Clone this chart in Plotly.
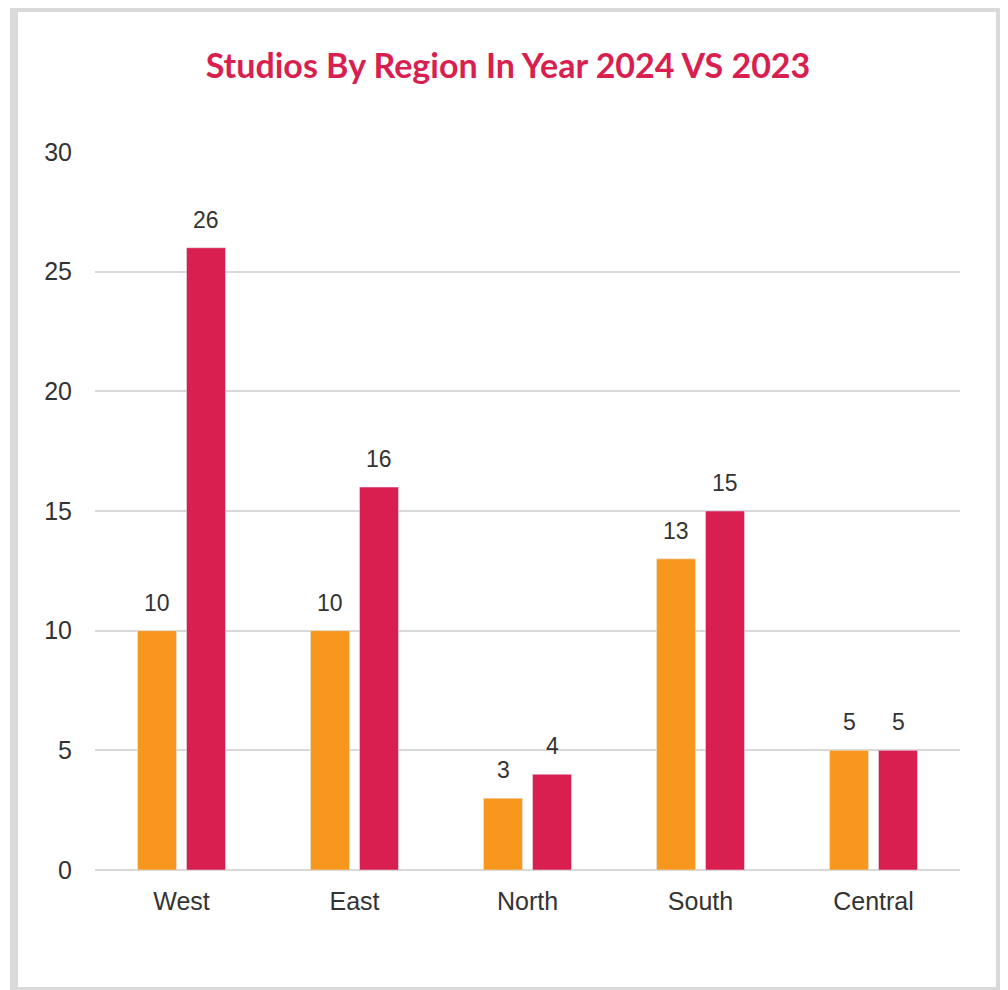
import plotly.graph_objects as go

regions = ["West", "East", "North", "South", "Central"]
studios_2023 = [10, 10, 3, 13, 5]
studios_2024 = [26, 16, 4, 15, 5]

ORANGE = "#f7971e"
RED = "#d81f4f"

# the page puts the figure 8px in from the top left, so the figure is 1000x982
W, H = 1000, 982
L, R, T, B = 87, 48, 144, 120
pw, ph = W - L - R, H - T - B


def px(x):
    return (x - L) / pw


def py(y):
    return (H - B - y) / ph


fig = go.Figure()
fig.add_trace(go.Bar(x=regions, y=studios_2023, name="2023", marker_color=ORANGE,
                     hoverinfo="x+y"))
fig.add_trace(go.Bar(x=regions, y=studios_2024, name="2024", marker_color=RED,
                     hoverinfo="x+y"))

# value labels above each bar
for series, shift in ((studios_2023, -24.5), (studios_2024, 24.5)):
    for reg, v in zip(regions, series):
        fig.add_annotation(x=reg, y=v, text=str(v), showarrow=False,
                           xshift=shift, yshift=13, yanchor="bottom",
                           font=dict(family="Liberation Sans", size=23, color="#333333"))

# outer gray frame and green edge bar
fig.add_shape(type="rect", xref="paper", yref="paper",
              x0=px(6), x1=px(992), y0=py(0), y1=py(983),
              line=dict(color="#d9d9d9", width=8), layer="below")
fig.add_shape(type="rect", xref="paper", yref="paper",
              x0=px(996), x1=px(1000), y0=py(28), y1=py(990),
              fillcolor="#3dba7b", line=dict(width=0))

fig.update_layout(
    width=W, height=H,
    title=dict(
        text="<b>Studios By Region In Year 2024 VS 2023</b>",
        xref="container", x=500 / W, xanchor="center",
        y=1 - 58 / H, yanchor="middle",
        font=dict(family="Lato", size=34, color=RED),
    ),
    barmode="group",
    bargap=0.4335,
    bargroupgap=0.204,
    showlegend=False,
    plot_bgcolor="white",
    paper_bgcolor="white",
    font=dict(family="Liberation Sans", size=25, color="#333333"),
    margin=dict(l=L, r=R, t=T, b=B),
    xaxis=dict(showgrid=False, showline=False, ticks="", ticklabelstandoff=14,
               tickfont=dict(size=25, color="#333333")),
    yaxis=dict(range=[0, 30], dtick=5, showgrid=True, gridcolor="#d9d9d9", gridwidth=2,
               zeroline=True, zerolinecolor="#d9d9d9", zerolinewidth=2,
               showline=False, ticks="", ticklabelstandoff=22,
               tickfont=dict(size=25, color="#333333")),
)

fig.write_html("out.html")
